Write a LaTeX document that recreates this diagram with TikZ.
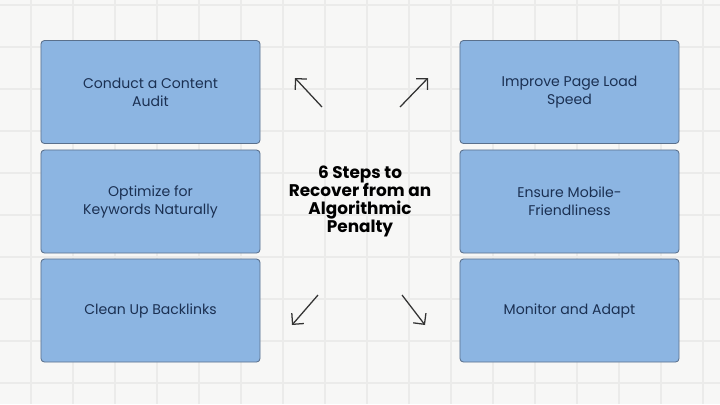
\documentclass[tikz,border=0pt]{standalone}
\usepackage{fontspec}
\setmainfont{Poppins}
\usepackage{xcolor}
\usepackage{tikz}
\usetikzlibrary{arrows.meta}
\definecolor{paper}{HTML}{F7F7F6}
\definecolor{gridline}{HTML}{EBEBEA}
\definecolor{boxblue}{HTML}{8CB5E2}
\definecolor{boxedge}{HTML}{5A708C}
\definecolor{boxtext}{HTML}{1B3052}
\definecolor{arrowgray}{HTML}{333333}

\begin{document}
\begin{tikzpicture}[x=0.025cm, y=-0.025cm,
  stepbox/.style={draw=boxedge, line width=0.6pt, fill=boxblue, rounded corners=2.5pt,
    minimum width=5.475cm, minimum height=2.575cm, align=center, text=boxtext,
    font=\fontsize{10}{12.8}\selectfont},
  pointer/.style={-{Straight Barb[length=2mm, width=4mm]}, line width=0.9pt, arrowgray}]
\useasboundingbox (0,0) rectangle (720,404);
\fill[paper] (0,0) rectangle (720,404);
\foreach \gx in {31,73,...,703} \draw[gridline, line width=0.9pt] (\gx,0) -- (\gx,404);
\foreach \gy in {5,47,...,395} \draw[gridline, line width=0.9pt] (0,\gy) -- (720,\gy);
% left column
\node[stepbox] (audit) at (150.5,92) {Conduct a Content\\Audit};
\node[stepbox] (keywords) at (150.5,201.5) {Optimize for\\Keywords Naturally};
\node[stepbox] (backlinks) at (150.5,310.5) {Clean Up Backlinks};
% right column
\node[stepbox] (speed) at (569.5,92) {Improve Page Load\\Speed};
\node[stepbox] (mobile) at (569.5,201.5) {Ensure Mobile-\\Friendliness};
\node[stepbox] (monitor) at (569.5,310.5) {Monitor and Adapt};
% title
\node[align=center, font=\bfseries\fontsize{12}{12.8}\selectfont] (title) at (360,201)
  {6 Steps to\\Recover from an\\Algorithmic\\Penalty};
% arrows
\coordinate (tlfrom) at (322,107); \coordinate (tlto) at (295,78);
\coordinate (trfrom) at (400,107); \coordinate (trto) at (428,78);
\coordinate (blfrom) at (318,295); \coordinate (blto) at (292,325);
\coordinate (brfrom) at (402,295); \coordinate (brto) at (425,325);
\draw[pointer] (tlfrom) -- (tlto);
\draw[pointer] (trfrom) -- (trto);
\draw[pointer] (blfrom) -- (blto);
\draw[pointer] (brfrom) -- (brto);
\end{tikzpicture}
\end{document}
